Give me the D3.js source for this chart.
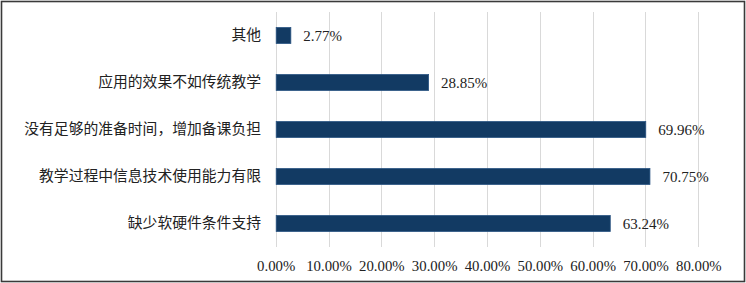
<!DOCTYPE html>
<html>
<head>
<meta charset="utf-8">
<script src="https://cdn.jsdelivr.net/npm/d3@7/dist/d3.min.js"></script>
<style>
html,body{margin:0;padding:0;background:#fff;}
svg{display:block;}
</style>
</head>
<body>
<svg id="chart" width="746" height="283"></svg>
<script>
const categories = ["其他","应用的效果不如传统教学","没有足够的准备时间，增加备课负担","教学过程中信息技术使用能力有限","缺少软硬件条件支持"];
const values = [2.77, 28.85, 69.96, 70.75, 63.24];
const tickValues = [0,10,20,30,40,50,60,70,80];

const svg = d3.select("#chart");
svg.append("rect").attr("x",1.5).attr("y",1.5).attr("width",743).attr("height",280)
  .attr("fill","#fff").attr("stroke","#3a3a3a").attr("stroke-width",1.6);

const x = d3.scaleLinear().domain([0,80]).range([275.7,698.3]);
const y = d3.scaleBand().domain(categories).range([12,247]).paddingInner(0.66).paddingOuter(0.33);

// gridlines
svg.append("g").selectAll("line").data(tickValues).join("line")
  .attr("x1",d=>Math.round(x(d))+0.5).attr("x2",d=>Math.round(x(d))+0.5)
  .attr("y1",12).attr("y2",247)
  .attr("stroke","#d9d9d9").attr("stroke-width",1);

// x axis labels
const xAxis = d3.axisBottom(x).tickValues(tickValues).tickSize(0).tickPadding(0)
  .tickFormat(d=>d3.format(".2f")(d)+"%");
const gx = svg.append("g").attr("transform","translate(0,266)").call(xAxis);
gx.select(".domain").remove();
gx.selectAll("text").attr("font-family","'Liberation Serif','Times New Roman',serif")
  .attr("font-size","14.8px").attr("fill","#222").attr("y",0).attr("dy","0.35em");

// y axis labels
const yAxis = d3.axisLeft(y).tickSize(0).tickPadding(0);
const gy = svg.append("g").attr("transform","translate(261,0)").call(yAxis);
gy.select(".domain").remove();
gy.selectAll("text").attr("font-family","'Noto Sans CJK SC',sans-serif")
  .attr("font-size","14.8px").attr("fill","#222");

// bars
const data = categories.map((c,i)=>({c, v:values[i]}));
svg.append("g").selectAll("rect").data(data).join("rect")
  .attr("x",x(0)+0.5).attr("y",d=>y(d.c))
  .attr("width",d=>x(d.v)-x(0)).attr("height",y.bandwidth())
  .attr("fill","#123a63").attr("stroke","#2a5482").attr("stroke-width",0.8);

// value labels
svg.append("g").selectAll("text").data(data).join("text")
  .attr("x",d=>x(d.v)+13).attr("y",d=>y(d.c)+y.bandwidth()/2)
  .attr("dy","0.35em")
  .attr("font-family","'Liberation Serif','Times New Roman',serif")
  .attr("font-size","15px").attr("fill","#222")
  .text(d=>d3.format(".2f")(d.v)+"%");
</script>
</body>
</html>
